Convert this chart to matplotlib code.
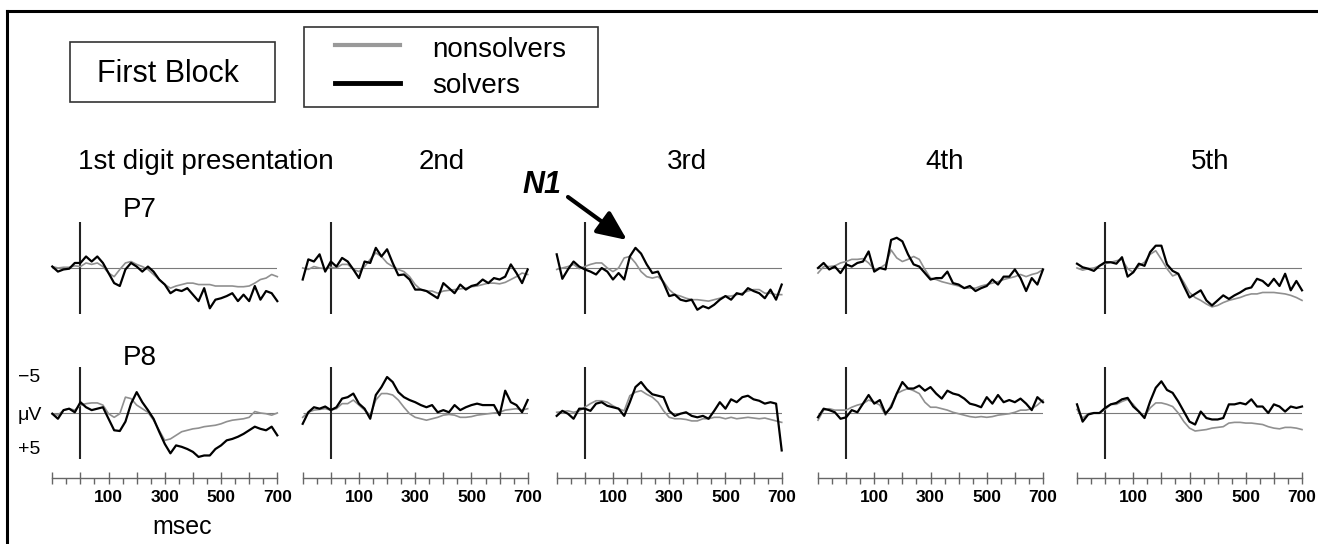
import matplotlib
matplotlib.use('Agg')
import matplotlib.pyplot as plt
from matplotlib.ticker import MultipleLocator
from matplotlib.patches import Rectangle, FancyArrowPatch, ArrowStyle
from matplotlib.lines import Line2D

plt.rcParams['font.family'] = ['Liberation Sans', 'DejaVu Sans']

# ---------------- data (µV, negative plotted upward) ----------------
times = list(range(-100, 701, 20))
columns = ['1st digit presentation', '2nd', '3rd', '4th', '5th']
electrodes = ['P7', 'P8']
tick_values = [-100, 0, 100, 200, 300, 400, 500, 600, 700]
tick_labels = ['', '', '100', '', '300', '', '500', '', '700']

# P7 (top row)
p7_sol_1 = [-0.2, 0.5, 0.2, 0.1, -0.7, -0.7, -1.6, -0.9, -1.6, -0.7, 0.7, 2.1, 2.5, 0.2, -0.7, -0.2, 0.5, -0.2, 0.5, 1.6,
            2.3, 3.5, 3.0, 3.2, 2.8, 3.7, 4.6, 2.8, 5.6, 4.4, 4.2, 3.9, 3.5, 4.6, 3.7, 4.6, 2.5, 4.4, 3.2, 3.5, 4.6]
p7_non_1 = [-0.2, 0.0, -0.1, -0.1, -0.3, -0.2, -0.7, -0.5, -0.7, -0.2, 0.7, 1.2, 0.2, -0.7, -0.9, -0.5, -0.2, 0.2, 0.9, 1.6,
            2.3, 2.8, 2.5, 2.3, 2.1, 2.1, 2.3, 2.3, 2.3, 2.5, 2.5, 2.5, 2.5, 2.6, 2.6, 2.5, 2.1, 1.6, 1.4, 0.9, 1.2]
p7_sol_2 = [1.6, -1.2, -0.9, -1.9, 0.5, -0.9, -0.2, -1.4, -0.9, 0.2, 1.4, -0.9, -0.7, -2.8, -1.6, -2.6, -0.7, 1.0, 0.9, 1.6,
            3.0, 3.0, 3.2, 3.7, 4.2, 2.1, 2.8, 3.5, 2.3, 3.0, 2.5, 2.3, 1.6, 2.1, 1.4, 1.6, 1.2, -0.5, 0.7, 2.1, 0.2]
p7_non_2 = [0.0, 0.2, -0.2, 0.0, 0.1, -0.1, 0.0, -0.5, -0.5, 0.2, 0.5, -0.2, -1.2, -2.1, -1.6, -0.7, -0.2, 0.2, 0.5, 1.2,
            2.3, 3.0, 3.2, 3.2, 3.5, 3.2, 3.1, 3.0, 2.9, 2.8, 2.6, 2.5, 2.3, 2.1, 2.1, 2.2, 2.0, 1.6, 1.2, 0.7, 0.9]
p7_sol_3 = [-1.9, 1.5, 0.2, -0.9, -0.2, 0.2, 0.5, 0.9, 0.0, 0.5, 1.6, 0.7, 1.6, -1.6, -2.8, -2.0, -0.5, 0.7, 0.5, 2.1,
            3.9, 3.7, 4.4, 4.6, 4.4, 5.8, 5.3, 5.6, 5.1, 4.4, 3.9, 4.4, 3.5, 3.7, 2.8, 3.2, 3.5, 4.2, 3.0, 4.4, 2.3]
p7_non_3 = [0.2, 0.0, -0.2, -0.5, 0.1, -0.2, -0.5, -0.7, -0.7, 0.0, 0.5, 0.0, -1.4, -1.6, -0.7, 0.5, 1.2, 1.4, 1.2, 1.9,
            3.0, 3.7, 3.9, 4.2, 4.4, 4.4, 4.5, 4.6, 4.4, 4.2, 3.9, 3.9, 3.7, 3.5, 3.2, 3.0, 3.0, 3.5, 3.5, 3.7, 3.7]
p7_sol_4 = [0.0, -0.7, 0.2, -0.2, 0.7, -0.5, -0.2, -0.7, -0.9, -2.3, 0.5, 0.0, 0.2, -3.9, -4.2, -3.7, -1.9, -0.5, -0.2, 0.7,
            1.6, 1.4, 1.4, 0.5, 2.1, 2.3, 2.8, 2.5, 3.2, 2.8, 2.5, 1.6, 2.3, 1.2, 1.2, 0.2, 1.4, 3.2, 1.4, 2.3, 0.2]
p7_non_4 = [0.7, -0.2, -0.2, -0.3, -0.7, -0.9, -1.2, -1.2, -1.3, -0.7, 0.2, 0.0, -0.5, -2.5, -1.4, -0.9, -1.2, -1.6, -1.2, 0.2,
            1.4, 1.6, 1.9, 2.1, 2.3, 2.5, 2.8, 2.8, 2.8, 2.5, 2.3, 2.1, 1.9, 1.6, 1.4, 1.2, 0.9, 1.2, 0.9, 0.7, 0.2]
p7_sol_5 = [-0.6, -0.1, 0.1, 0.4, -0.3, -0.8, -0.8, -0.6, -1.5, 1.2, 0.6, -0.6, -0.3, -2.2, -3.1, -3.1, -0.5, 0.4, 0.8, 2.5,
            4.1, 3.6, 3.1, 4.5, 5.2, 4.5, 3.8, 4.3, 3.8, 3.4, 2.9, 2.7, 1.5, 1.8, 2.5, 1.5, 2.5, 0.8, 3.1, 1.8, 3.1]
p7_non_5 = [0.0, 0.3, 0.1, 0.0, -0.3, -0.6, -0.8, -1.0, -1.2, 0.1, 0.6, -0.3, -0.8, -1.9, -2.4, -1.2, 0.1, 1.1, 0.8, 2.0,
            3.4, 4.1, 4.5, 5.0, 5.4, 5.2, 4.8, 4.5, 4.3, 4.1, 3.8, 3.6, 3.6, 3.4, 3.4, 3.4, 3.5, 3.6, 3.8, 4.1, 4.5]

# P8 (bottom row)
p8_sol_1 = [0.1, 0.8, -0.4, -0.6, -0.1, -1.5, -0.8, -0.4, -0.6, -0.8, 0.8, 2.4, 2.5, 1.2, -1.3, -2.9, -1.5, -0.4, 0.8, 2.6,
            4.3, 5.6, 4.5, 4.7, 5.0, 5.4, 6.1, 5.9, 5.9, 5.0, 4.5, 3.8, 3.6, 3.3, 2.9, 2.4, 1.9, 2.2, 2.4, 1.9, 3.1]
p8_non_1 = [0.1, 0.3, -0.4, -0.6, -0.4, -1.1, -1.3, -1.4, -1.4, -1.1, 0.1, 0.6, 0.1, -2.2, -2.0, -1.1, -0.6, -0.1, 1.0, 2.4,
            3.8, 3.6, 3.1, 2.6, 2.4, 2.2, 2.1, 1.9, 1.8, 1.7, 1.5, 1.2, 1.0, 0.9, 0.8, 0.6, -0.2, 0.0, 0.1, 0.3, 0.0]
p8_sol_2 = [1.5, -0.1, -0.8, -0.6, -0.9, -0.4, -0.8, -2.0, -2.2, -2.7, -1.3, -0.6, 0.8, -2.5, -3.6, -5.0, -4.3, -2.9, -2.2, -1.8,
            -1.5, -1.1, -0.8, -1.1, -0.1, -0.4, -0.1, -1.1, -0.4, -0.8, -1.1, -1.3, -1.1, -1.1, -1.1, 0.3, -3.1, -1.5, -1.1, -0.1, -1.8]
p8_non_2 = [0.6, -0.1, -0.4, -0.5, -0.6, -0.4, -0.6, -1.3, -1.3, -1.8, -1.1, -0.4, 0.3, -1.8, -2.7, -2.7, -2.5, -1.8, -0.8, 0.1,
            0.6, 0.8, 1.0, 0.8, 0.6, 0.3, 0.2, 0.3, 0.6, 0.6, 0.5, 0.3, 0.2, 0.1, 0.0, -0.1, -0.4, -0.5, -0.6, -0.4, -0.6]
p8_sol_3 = [0.4, -0.3, 0.1, 0.8, -0.6, -0.6, -0.3, -1.3, -1.5, -1.0, -0.8, -0.6, 0.4, -1.5, -3.6, -4.3, -3.3, -2.6, -2.4, -2.2,
            -0.3, 0.4, 0.1, -0.1, 0.4, 0.6, 0.4, 0.8, -0.3, -1.5, -0.6, -1.9, -1.5, -2.2, -2.4, -1.9, -1.7, -1.3, -1.5, -1.3, 5.2]
p8_non_3 = [-0.1, -0.2, -0.3, -0.1, -0.3, -0.8, -1.3, -1.7, -1.7, -1.5, -1.0, -0.6, -0.3, -2.4, -2.9, -3.1, -2.6, -2.2, -1.5, -0.3,
            0.6, 0.8, 0.8, 0.9, 1.1, 1.1, 0.8, 0.8, 0.6, 0.6, 0.8, 0.6, 0.8, 0.7, 0.6, 0.7, 0.8, 0.7, 0.9, 1.1, 1.3]
p8_sol_4 = [0.6, -0.6, -0.4, -0.1, 0.8, 0.6, -0.4, -0.1, -1.3, -2.5, -1.3, -1.8, 0.1, -0.8, -2.7, -4.3, -3.4, -3.4, -3.8, -3.1,
            -3.6, -2.7, -2.0, -3.1, -2.7, -2.5, -2.0, -1.3, -1.1, -0.8, -2.2, -1.3, -2.5, -1.5, -1.8, -1.5, -2.0, -1.3, -0.4, -2.2, -1.5]
p8_non_4 = [1.0, -0.4, -0.6, -0.4, -0.4, -0.4, -0.8, -1.1, -1.3, -1.8, -1.5, -1.1, 0.3, -1.1, -2.7, -3.1, -3.4, -3.1, -2.7, -1.5,
            -0.8, -0.8, -0.6, -0.4, -0.1, 0.1, 0.3, 0.5, 0.6, 0.5, 0.6, 0.5, 0.3, 0.2, 0.1, -0.1, -0.4, -0.4, -0.6, -1.1, -1.8]
p8_sol_5 = [-1.2, 1.2, 0.2, 0.0, 0.0, -0.7, -1.2, -1.4, -1.9, -2.1, -0.9, -0.2, 0.7, -1.6, -3.5, -4.4, -3.2, -2.8, -1.6, -0.2,
            1.2, 1.6, -0.2, 0.7, 0.9, 0.9, 0.7, -1.2, -1.2, -1.4, -1.2, -1.9, -0.9, -0.9, 0.0, -1.2, -0.9, -0.2, -0.9, -0.7, -0.9]
p8_non_5 = [-0.5, 0.7, 0.1, 0.0, 0.0, -0.5, -1.2, -1.2, -1.6, -1.9, -1.2, -0.2, 0.5, -0.7, -1.4, -1.4, -1.2, -0.9, 0.0, 1.2,
            2.1, 2.5, 2.4, 2.3, 2.1, 2.0, 1.9, 1.4, 1.3, 1.3, 1.4, 1.4, 1.5, 1.6, 1.9, 2.1, 2.2, 2.0, 2.0, 2.1, 2.3]

solvers = {'P7': [p7_sol_1, p7_sol_2, p7_sol_3, p7_sol_4, p7_sol_5],
           'P8': [p8_sol_1, p8_sol_2, p8_sol_3, p8_sol_4, p8_sol_5]}
nonsolvers = {'P7': [p7_non_1, p7_non_2, p7_non_3, p7_non_4, p7_non_5],
              'P8': [p8_non_1, p8_non_2, p8_non_3, p8_non_4, p8_non_5]}

# ---------------- layout (pixels) ----------------
W, H = 1318, 544
fig = plt.figure(figsize=(W / 100, H / 100), dpi=100)
fig.patch.set_facecolor('white')


def frect(x0, y0, w, h):
    return [x0 / W, 1 - (y0 + h) / H, w / W, h / H]


def fx(x):
    return x / W


def fy(y):
    return 1 - y / H


col_x0 = [52.3, 302.7, 556.7, 818.0, 1077.0]
panel_w = 225.0
ppu = 7.2           # pixels per microvolt
base_y = {'P7': 268.0, 'P8': 413.0}
axis_y = 478.0
ytop = -8.0
ybot_axis = (axis_y - base_y['P8']) / ppu

GRAY = '#909090'
axes_map = {}
for ci in range(5):
    for el in electrodes:
        b = base_y[el]
        if el == 'P7':
            lo = 8.0
        else:
            lo = ybot_axis
        y0 = b + ytop * ppu
        h = (lo - ytop) * ppu
        ax = fig.add_axes(frect(col_x0[ci], y0, panel_w, h))
        ax.patch.set_alpha(0)
        ax.set_xlim(-100, 700)
        ax.set_ylim(lo, ytop)
        ax.hlines(0, -100, 700, color='#7a7a7a', lw=0.8, zorder=1)
        ax.vlines(0, -6.4, 6.4, color='#222222', lw=1.5, zorder=2)
        ax.plot(times, nonsolvers[el][ci], color=GRAY, lw=1.2, zorder=3, clip_on=False)
        ax.plot(times, solvers[el][ci], color='black', lw=1.6, zorder=4, clip_on=False)
        for s in ['left', 'right', 'top']:
            ax.spines[s].set_visible(False)
        ax.set_yticks([])
        if el == 'P7':
            ax.spines['bottom'].set_visible(False)
            ax.set_xticks([])
        else:
            ax.spines['bottom'].set_color('#666666')
            ax.spines['bottom'].set_linewidth(1.0)
            ax.set_xticks(tick_values)
            ax.set_xticklabels(tick_labels, fontsize=12.5, fontweight='bold')
            ax.xaxis.set_minor_locator(MultipleLocator(50))
            ax.tick_params(axis='x', which='major', direction='inout', length=8,
                           width=1, color='#666666', pad=5)
            ax.tick_params(axis='x', which='minor', direction='out', length=4,
                           width=1, color='#666666')
        axes_map[(el, ci)] = ax

# ---------------- frame ----------------
fig.add_artist(Line2D([fx(7), 1.0], [fy(11), fy(11)], color='black', lw=2.2))
fig.add_artist(Line2D([fx(7), fx(7)], [fy(11), 0.0], color='black', lw=2.2))

# ---------------- "First Block" box ----------------
fig.add_artist(Rectangle((fx(70), fy(102)), 205 / W, 60 / H, transform=fig.transFigure,
                         fill=False, ec='#333333', lw=1.2))
fig.text(fx(97), fy(82), 'First Block', fontsize=22, ha='left', va='baseline')

# ---------------- legend box ----------------
fig.add_artist(Rectangle((fx(304), fy(107)), 294 / W, 80 / H, transform=fig.transFigure,
                         fill=False, ec='#333333', lw=1.2))
fig.add_artist(Line2D([fx(335), fx(400)], [fy(45), fy(45)], color='#999999', lw=3.0))
fig.add_artist(Line2D([fx(335), fx(400)], [fy(83), fy(83)], color='black', lw=3.5))
fig.text(fx(432), fy(57), 'nonsolvers', fontsize=20, ha='left', va='baseline')
fig.text(fx(432), fy(93), 'solvers', fontsize=20, ha='left', va='baseline')

# ---------------- column titles ----------------
fig.text(fx(78), fy(169), columns[0], fontsize=20, ha='left', va='baseline')
for name, cx in zip(columns[1:], [442, 687, 945, 1210]):
    fig.text(fx(cx), fy(169), name, fontsize=20, ha='center', va='baseline')

# electrode labels
fig.text(fx(123), fy(217), electrodes[0], fontsize=20, ha='left', va='baseline')
fig.text(fx(123), fy(365), electrodes[1], fontsize=20, ha='left', va='baseline')

# amplitude scale labels
fig.text(fx(18), fy(378), '\u22125', fontsize=14, ha='left', va='center')
fig.text(fx(18), fy(415), '\u03bcV', fontsize=14, ha='left', va='center')
fig.text(fx(18), fy(450), '+5', fontsize=14, ha='left', va='center')

# msec
fig.text(fx(152), fy(527), 'msec', fontsize=18, ha='left', va='center')

# N1 annotation
fig.text(fx(522), fy(193), 'N1', fontsize=22, fontweight='bold', fontstyle='italic',
         ha='left', va='baseline')
fig.add_artist(FancyArrowPatch((fx(568), fy(197)), (fx(627), fy(240)),
                               transform=fig.transFigure,
                               arrowstyle=ArrowStyle('-|>', head_length=0.9, head_width=0.4),
                               mutation_scale=20, lw=3, color='black',
                               shrinkA=0, shrinkB=0))

fig.savefig('out.png', dpi=100, facecolor='white')
